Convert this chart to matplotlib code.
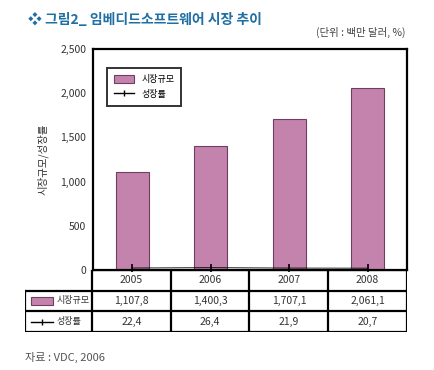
import matplotlib.pyplot as plt
from matplotlib.patches import Rectangle
from matplotlib.lines import Line2D

plt.rcParams['font.family'] = ['Noto Sans CJK KR', 'DejaVu Sans']

years = ['2005', '2006', '2007', '2008']
market_size = [1107.8, 1400.3, 1707.1, 2061.1]
growth_rate = [22.4, 26.4, 21.9, 20.7]
yticks = [0, 500, 1000, 1500, 2000, 2500]
series_names = ['시장규모', '성장률']

bar_color = '#c383ad'
bar_edge = '#6e3f60'
W, H = 434, 370

fig = plt.figure(figsize=(W / 100, H / 100), dpi=100)

def box(x0, y0, x1, y1):
    # pixel box (top-left origin) -> figure fraction
    return [x0 / W, 1 - y1 / H, (x1 - x0) / W, (y1 - y0) / H]

ax = fig.add_axes(box(93, 49, 407, 270))
x = range(len(years))
bars = ax.bar(x, market_size, width=0.42, color=bar_color, edgecolor=bar_edge,
              linewidth=0.8, label=series_names[0], zorder=2)
line, = ax.plot(x, growth_rate, color='black', lw=0.6, marker='|', ms=6, mew=1.2,
                label=series_names[1], zorder=4, clip_on=False)
ax.set_xlim(-0.5, len(years) - 0.5)
ax.set_ylim(0, 2500)
ax.set_yticks(yticks)
ax.set_yticklabels([f'{v:,}' for v in yticks], fontsize=7.5, color='#333333')
ax.set_xticks([])
ax.tick_params(axis='y', length=0, pad=5)
for s in ax.spines.values():
    s.set_linewidth(1.6)
ax.set_ylabel('시장규모/성장률', fontsize=7.5, color='#333333', labelpad=8)

leg = ax.legend(handles=[bars, Line2D([0], [0], color='black', lw=1, marker='|', ms=4)],
                labels=series_names, loc='upper left', bbox_to_anchor=(0.03, 0.935),
                fontsize=6.5, frameon=True, fancybox=False, edgecolor='black',
                handlelength=2.2, handleheight=0.9, borderpad=0.8, labelspacing=0.6)
leg.get_frame().set_linewidth(1.4)

# data table below the chart
tax = fig.add_axes(box(25, 270, 407, 332))
tax.set_xlim(-1.35, len(years) - 0.5)
tax.set_ylim(0, 3)
tax.axis('off')
lw = 1.6
tax.plot([-0.5, len(years) - 0.5], [3, 3], color='black', lw=lw)
tax.plot([-1.35, len(years) - 0.5], [2, 2], color='black', lw=lw)
tax.plot([-1.35, len(years) - 0.5], [1, 1], color='black', lw=lw)
tax.plot([-1.35, len(years) - 0.5], [0, 0], color='black', lw=lw)
tax.plot([-1.35, -1.35], [0, 2], color='black', lw=lw)
for b in range(len(years) + 1):
    tax.plot([b - 0.5, b - 0.5], [0, 3], color='black', lw=lw)

fmt = lambda v: f'{v:,.1f}'.replace('.', '_').replace('_', ',')
for i, yr in enumerate(years):
    tax.text(i, 2.5, yr, ha='center', va='center', fontsize=7.5, color='#333333')
    tax.text(i, 1.5, fmt(market_size[i]), ha='center', va='center', fontsize=7.5, color='#333333')
    tax.text(i, 0.5, fmt(growth_rate[i]), ha='center', va='center', fontsize=7.5, color='#333333')

tax.add_patch(Rectangle((-1.27, 1.3), 0.28, 0.4, facecolor=bar_color, edgecolor=bar_edge, lw=0.8))
tax.text(-0.95, 1.5, series_names[0], ha='left', va='center', fontsize=6.5, color='#333333')
tax.plot([-1.27, -0.99], [0.5, 0.5], color='black', lw=1)
tax.plot([-1.13], [0.5], color='black', marker='|', ms=4)
tax.text(-0.95, 0.5, series_names[1], ha='left', va='center', fontsize=6.5, color='#333333')

fig.text(28 / W, 1 - 20 / H, '❖ 그림2_ 임베디드소프트웨어 시장 추이', fontsize=10,
         fontweight='bold', color='#1f6fa3', va='center', family=['Noto Sans CJK KR', 'DejaVu Sans'])
fig.text(405 / W, 1 - 32 / H, '(단위 : 백만 달러, %)', fontsize=7.5, color='#444444',
         ha='right', va='center')
fig.text(25 / W, 1 - 357 / H, '자료 : VDC, 2006', fontsize=8, color='#555555', va='center')

fig.savefig('out.png', dpi=100)
